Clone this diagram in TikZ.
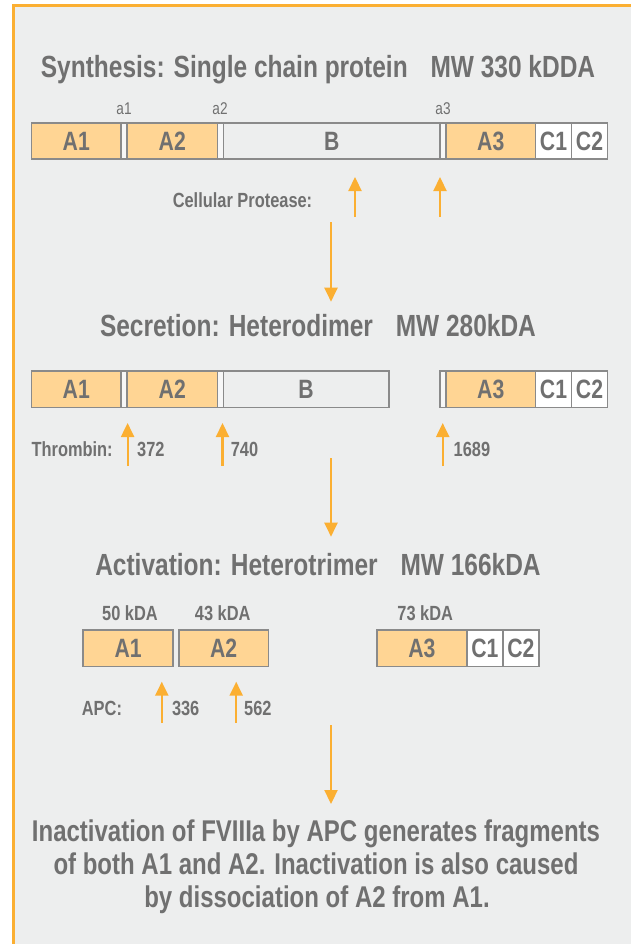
\documentclass[tikz,border=0pt]{standalone}
\usepackage{fontspec}
\setmainfont{Liberation Sans}[FakeStretch=0.8]
\usepackage{xcolor}
\usetikzlibrary{positioning, arrows.meta}

\definecolor{bggray}{HTML}{EDEEEE}
\definecolor{framecol}{HTML}{FBAF32}
\definecolor{txtgray}{HTML}{707070}
\definecolor{boxgray}{HTML}{8A8A8A}
\definecolor{domfill}{HTML}{FFD594}
\definecolor{linkfill}{HTML}{F7F7F7}

\begin{document}
\begin{tikzpicture}[
    x=1pt, y=-1pt,
    stagetitle/.style={font=\fontsize{30.6}{36}\selectfont\bfseries, text=txtgray, anchor=base, inner sep=0pt},
    note/.style={font=\fontsize{30}{33}\selectfont\bfseries, text=txtgray, anchor=base, inner sep=0pt},
    segment/.style={draw=boxgray, line width=1.8pt, minimum height=36.5pt, inner sep=0pt, outer sep=0pt, font=\fontsize{26.5}{30}\selectfont\bfseries, text=txtgray},
    adom/.style={segment, fill=domfill},
    bdom/.style={segment, fill=bggray},
    cdom/.style={segment, fill=white, minimum width=36pt},
    linker/.style={segment, fill=linkfill, minimum width=6pt},
    sitetag/.style={font=\fontsize{17}{20}\selectfont, text=txtgray, anchor=base, inner sep=0pt},
    enzyme/.style={font=\fontsize{20.5}{24}\selectfont\bfseries, text=txtgray, anchor=base, inner sep=0pt},
    orangearrow/.style={draw=framecol, line width=2.2pt, -{Triangle[width=13pt, length=14pt]}}
]
\useasboundingbox (0,0) rectangle (631,944);

% Frame and background
\fill[bggray] (13.5,6) rectangle (631,944);
\draw[framecol, line width=3pt] (631,6) -- (13.5,6) -- (13.5,944);

% Synthesis
\node[stagetitle] (title1) at (318,77.3) {Synthesis: Single chain protein\hspace{16pt} MW 330 kDDA};

\node[adom, minimum width=89.5pt, anchor=west] (s1a1) at (31.5,140.9) {A1};
\node[linker, right=0pt of s1a1] (s1g1) {};
\node[adom, minimum width=90.5pt, right=0pt of s1g1] (s1a2) {A2};
\node[linker, right=0pt of s1a2] (s1g2) {};
\node[bdom, minimum width=216.5pt, right=0pt of s1g2] (s1b) {B};
\node[linker, right=0pt of s1b] (s1g3) {};
\node[adom, minimum width=89.5pt, right=0pt of s1g3] (s1a3) {A3};
\node[cdom, right=0pt of s1a3] (s1c1) {C1};
\node[cdom, right=0pt of s1c1] (s1c2) {C2};

\node[sitetag] (tag1) at (124,115) {a1};
\node[sitetag] (tag2) at (220,115) {a2};
\node[sitetag] (tag3) at (443,115) {a3};

\node[enzyme] (protease) at (242.5,207) {Cellular Protease:};
\coordinate (pc1s) at (355,217);
\coordinate (pc1e) at (355,177);
\coordinate (pc2s) at (440,217);
\coordinate (pc2e) at (440,177);
\draw[orangearrow] (pc1s) -- (pc1e);
\draw[orangearrow] (pc2s) -- (pc2e);

\coordinate (flow1s) at (331,222);
\coordinate (flow1e) at (331,301.7);
\draw[orangearrow] (flow1s) -- (flow1e);

% Secretion
\node[stagetitle] (title2) at (318,336) {Secretion: Heterodimer\hspace{16pt} MW 280kDA};

\node[adom, minimum width=89.5pt, anchor=west] (s2a1) at (31.5,389.3) {A1};
\node[linker, right=0pt of s2a1] (s2g1) {};
\node[adom, minimum width=90.5pt, right=0pt of s2g1] (s2a2) {A2};
\node[linker, right=0pt of s2a2] (s2g2) {};
\node[bdom, minimum width=165.2pt, right=0pt of s2g2] (s2b) {B};
\node[linker, anchor=west] (s2g3) at (440,389.3) {};
\node[adom, minimum width=89.5pt, right=0pt of s2g3] (s2a3) {A3};
\node[cdom, right=0pt of s2a3] (s2c1) {C1};
\node[cdom, right=0pt of s2c1] (s2c2) {C2};

\node[enzyme, anchor=base west] (thrombin) at (31.4,456) {Thrombin:};
\node[enzyme, anchor=base west] (t372) at (137,456) {372};
\node[enzyme, anchor=base west] (t740) at (230.6,456) {740};
\node[enzyme, anchor=base west] (t1689) at (453.5,456) {1689};
\coordinate (th1s) at (127.6,466);
\coordinate (th1e) at (127.6,423);
\coordinate (th2s) at (222.5,466);
\coordinate (th2e) at (222.5,423);
\coordinate (th3s) at (442.7,466);
\coordinate (th3e) at (442.7,423);
\draw[orangearrow] (th1s) -- (th1e);
\draw[orangearrow] (th2s) -- (th2e);
\draw[orangearrow] (th3s) -- (th3e);

\coordinate (flow2s) at (331,458);
\coordinate (flow2e) at (331,536.7);
\draw[orangearrow] (flow2s) -- (flow2e);

% Activation
\node[stagetitle] (title3) at (318,575.5) {Activation: Heterotrimer\hspace{16pt} MW 166kDA};

\node[enzyme] (kd50) at (130,620) {50 kDA};
\node[enzyme] (kd43) at (222.7,620) {43 kDA};
\node[enzyme] (kd73) at (425.2,620) {73 kDA};

\node[adom, minimum width=89.7pt, anchor=west] (s3a1) at (83.3,648.3) {A1};
\node[adom, minimum width=89.7pt, right=5.7pt of s3a1] (s3a2) {A2};
\node[adom, minimum width=89.8pt, anchor=west] (s3a3) at (377,648.3) {A3};
\node[cdom, right=0pt of s3a3] (s3c1) {C1};
\node[cdom, right=0pt of s3c1] (s3c2) {C2};

\node[enzyme, anchor=base west] (apc) at (81.7,715) {APC:};
\node[enzyme, anchor=base west] (c336) at (171.8,715) {336};
\node[enzyme, anchor=base west] (c562) at (244,715) {562};
\coordinate (ap1s) at (161.8,723);
\coordinate (ap1e) at (161.8,681.7);
\coordinate (ap2s) at (236.2,723);
\coordinate (ap2e) at (236.2,681.7);
\draw[orangearrow] (ap1s) -- (ap1e);
\draw[orangearrow] (ap2s) -- (ap2e);

\coordinate (flow3s) at (331,725);
\coordinate (flow3e) at (331,804);
\draw[orangearrow] (flow3s) -- (flow3e);

% Inactivation
\node[note] (line1) at (316,841) {Inactivation of FVIIIa by APC generates fragments};
\node[note] (line2) at (316,874) {of both A1 and A2. Inactivation is also caused};
\node[note] (line3) at (317,907) {by dissociation of A2 from A1.};

\end{tikzpicture}
\end{document}
